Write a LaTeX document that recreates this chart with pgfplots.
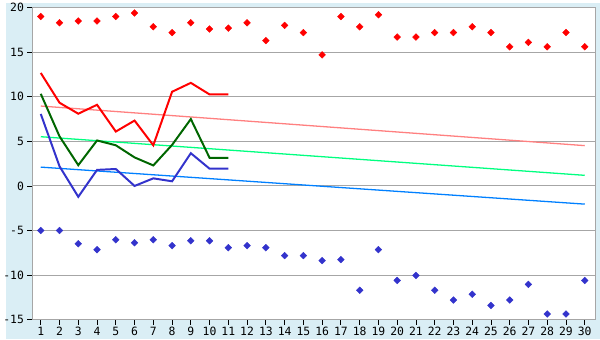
\documentclass[border=0pt]{standalone}
\usepackage{fontspec}
\setmainfont{DejaVu Sans Mono}
\usepackage{pgfplots}
\pgfplotsset{compat=1.18}
\definecolor{bgblue}{RGB}{218,238,245}
\definecolor{ptred}{RGB}{255,0,0}
\definecolor{ptblue}{RGB}{51,51,204}
\definecolor{lgreen}{RGB}{0,102,0}
\definecolor{tpink}{RGB}{255,128,128}
\definecolor{tgreen}{RGB}{0,255,128}
\definecolor{tblue}{RGB}{0,128,255}
\begin{document}
\begin{tikzpicture}
\fill[bgblue] (-27pt,-20pt) rectangle (573pt,320pt);
\begin{axis}[
  scale only axis, width=568pt, height=315pt,
  xmin=0.55, xmax=30.55, ymin=-15, ymax=20,
  xtick={1,...,30}, ytick={-15,-10,...,20},
  xtick pos=lower, ytick pos=left,
  ymajorgrids, grid style={color=black!35, line width=1.1pt},
  axis line style={black!35, line width=1.1pt},
  axis background/.style={fill=white},
  tick align=outside, major tick length=5pt,
  tick style={black, line width=0.8pt},
  /pgf/number format/assume math mode=true,
  tick label style={font=\fontsize{11.5}{13}\selectfont, black},
  xticklabel style={yshift=1pt},
  clip=false,
]
% trend lines
\addplot[tpink, line width=1.3pt] coordinates {(1,8.96) (30,4.52)};
\addplot[tgreen, line width=1.3pt] coordinates {(1,5.52) (30,1.19)};
\addplot[tblue, line width=1.3pt] coordinates {(1,2.11) (30,-2.04)};
% data lines
\addplot[ptred, line width=2pt] coordinates {
(1,12.67) (2,9.33) (3,8.1) (4,9.1) (5,6.1) (6,7.33) (7,4.56) (8,10.56) (9,11.56) (10,10.26) (11,10.26)};
\addplot[lgreen, line width=2pt] coordinates {
(1,10.33) (2,5.56) (3,2.33) (4,5.1) (5,4.56) (6,3.2) (7,2.3) (8,4.6) (9,7.5) (10,3.15) (11,3.15)};
\addplot[ptblue, line width=2pt] coordinates {
(1,8.07) (2,2.2) (3,-1.22) (4,1.8) (5,1.9) (6,0) (7,0.85) (8,0.52) (9,3.67) (10,1.93) (11,1.93)};
% points
\addplot[only marks, mark=square*, mark size=2.4pt, mark options={rotate=45}, color=ptred] coordinates {
(1,19.0) (2,18.3) (3,18.5) (4,18.5) (5,19.0) (6,19.4) (7,17.85) (8,17.2) (9,18.3) (10,17.6)
(11,17.7) (12,18.3) (13,16.3) (14,18.0) (15,17.2) (16,14.7) (17,19.0) (18,17.85) (19,19.2) (20,16.7)
(21,16.7) (22,17.2) (23,17.2) (24,17.85) (25,17.2) (26,15.6) (27,16.1) (28,15.6) (29,17.2) (30,15.6)};
\addplot[only marks, mark=square*, mark size=2.4pt, mark options={rotate=45}, color=ptblue] coordinates {
(1,-5.0) (2,-5.0) (3,-6.48) (4,-7.15) (5,-6.04) (6,-6.37) (7,-6.04) (8,-6.7) (9,-6.15) (10,-6.15)
(11,-6.93) (12,-6.7) (13,-6.93) (14,-7.81) (15,-7.81) (16,-8.37) (17,-8.26) (18,-11.7) (19,-7.15) (20,-10.6)
(21,-10.04) (22,-11.7) (23,-12.8) (24,-12.15) (25,-13.4) (26,-12.8) (27,-11.04) (28,-14.37) (29,-14.37) (30,-10.6)};
\end{axis}
\end{tikzpicture}
\end{document}
